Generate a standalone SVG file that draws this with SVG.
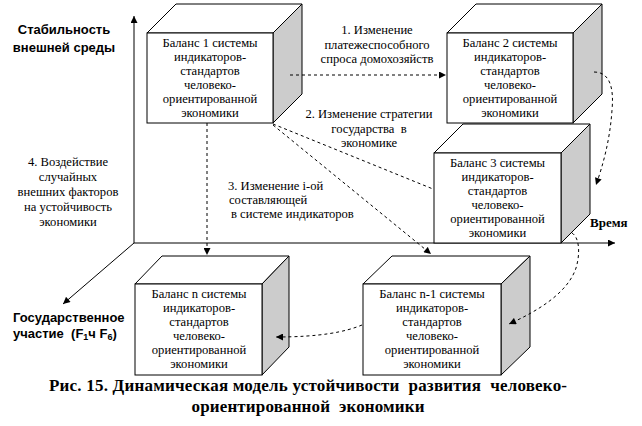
<svg xmlns="http://www.w3.org/2000/svg" width="642" height="426" viewBox="0 0 642 426">
<style>
  .bg{fill:#fff}
  .front{fill:#fff;stroke:#000;stroke-width:1}
  .top{fill:#fff;stroke:#000;stroke-width:1}
  .side{fill:#cccccc;stroke:#000;stroke-width:1}
  .bt{font-family:"Liberation Serif","Times New Roman",serif;font-size:12.6px;fill:#000;text-anchor:middle}
  .lbl{font-family:"Liberation Serif","Times New Roman",serif;font-size:12.6px;fill:#000;white-space:pre}
  .mid{text-anchor:middle}
  .hb{font-family:"Liberation Sans",Arial,sans-serif;font-size:13px;font-weight:bold;fill:#000;white-space:pre}
  .sb{font-family:"Liberation Serif","Times New Roman",serif;font-size:13px;font-weight:bold;fill:#000}
  .cap{font-family:"Liberation Serif","Times New Roman",serif;font-size:17px;font-weight:bold;fill:#000;text-anchor:middle;white-space:pre}
  .axis{fill:none;stroke:#000;stroke-width:1}
  .dash{fill:none;stroke:#000;stroke-width:1;stroke-dasharray:3 3}
</style>
<defs>
  <marker id="ah" viewBox="0 0 10 10" refX="10" refY="5" markerWidth="8" markerHeight="7" markerUnits="userSpaceOnUse" orient="auto">
    <path d="M0,0 L10,5 L0,10 z" fill="#000"/>
  </marker>
</defs>
<rect class="bg" x="0" y="0" width="642" height="426"/>

<g id="axes">
  <path class="axis" d="M134,243 L134,16" marker-end="url(#ah)"/>
  <path class="axis" d="M134,243 L615,243" marker-end="url(#ah)"/>
  <path class="axis" d="M134,243 L63,304" marker-end="url(#ah)"/>
</g>

<g id="box1">
  <polygon class="top" points="147,33 273,33 302,4 176,4"/>
  <polygon class="side" points="273,33 302,4 302,94 273,123"/>
  <rect class="front" x="147" y="33" width="126" height="90"/>
  <text class="bt" x="210" y="46.5">Баланс 1 системы</text>
  <text class="bt" x="210" y="60.5">индикаторов-</text>
  <text class="bt" x="210" y="74.5">стандартов</text>
  <text class="bt" x="210" y="88.5">человеко-</text>
  <text class="bt" x="210" y="102.5">ориентированной</text>
  <text class="bt" x="210" y="116.5">экономики</text>
</g>

<g id="box2">
  <polygon class="top" points="447,33 573,33 602,4 476,4"/>
  <polygon class="side" points="573,33 602,4 602,94 573,123"/>
  <rect class="front" x="447" y="33" width="126" height="90"/>
  <text class="bt" x="510" y="46.5">Баланс 2 системы</text>
  <text class="bt" x="510" y="60.5">индикаторов-</text>
  <text class="bt" x="510" y="74.5">стандартов</text>
  <text class="bt" x="510" y="88.5">человеко-</text>
  <text class="bt" x="510" y="102.5">ориентированной</text>
  <text class="bt" x="510" y="116.5">экономики</text>
</g>

<g id="box3">
  <polygon class="top" points="434,153 561,153 590,124 463,124"/>
  <polygon class="side" points="561,153 590,124 590,214 561,243"/>
  <rect class="front" x="434" y="153" width="127" height="90"/>
  <text class="bt" x="497.5" y="166.5">Баланс 3 системы</text>
  <text class="bt" x="497.5" y="180.5">индикаторов-</text>
  <text class="bt" x="497.5" y="194.5">стандартов</text>
  <text class="bt" x="497.5" y="208.5">человеко-</text>
  <text class="bt" x="497.5" y="222.5">ориентированной</text>
  <text class="bt" x="497.5" y="236.5">экономики</text>
</g>

<g id="boxn">
  <polygon class="top" points="135,284 262,284 289,256 162,256"/>
  <polygon class="side" points="262,284 289,256 289,347 262,375"/>
  <rect class="front" x="135" y="284" width="127" height="91"/>
  <text class="bt" x="199" y="298">Баланс n системы</text>
  <text class="bt" x="199" y="312">индикаторов-</text>
  <text class="bt" x="199" y="326">стандартов</text>
  <text class="bt" x="199" y="340">человеко-</text>
  <text class="bt" x="199" y="354">ориентированной</text>
  <text class="bt" x="199" y="368">экономики</text>
</g>

<g id="boxn1">
  <polygon class="top" points="363,284 501,284 530,256 392,256"/>
  <polygon class="side" points="501,284 530,256 530,347 501,375"/>
  <rect class="front" x="363" y="284" width="138" height="91"/>
  <text class="bt" x="432" y="298">Баланс n-1 системы</text>
  <text class="bt" x="432" y="312">индикаторов-</text>
  <text class="bt" x="432" y="326">стандартов</text>
  <text class="bt" x="432" y="340">человеко-</text>
  <text class="bt" x="432" y="354">ориентированной</text>
  <text class="bt" x="432" y="368">экономики</text>
</g>

<g id="connectors">
  <path class="dash" d="M290,75 L446,75" marker-end="url(#ah)"/>
  <path class="dash" d="M207,123 L207,255" marker-end="url(#ah)"/>
  <path class="dash" d="M273,124 L433,189"/>
  <path class="dash" d="M273,125 L431,254" marker-end="url(#ah)"/>
  <path class="dash" d="M594,72 C610,72 614,88 612,110 C610,140 603,165 596,185" marker-end="url(#ah)"/>
  <path class="dash" d="M572,233 C580,238 580,255 576,268 C568,292 540,310 509,324" marker-end="url(#ah)"/>
  <path class="dash" d="M362,325 C345,332 320,337 276,337" marker-end="url(#ah)"/>
</g>

<g id="labels">
  <text class="hb" x="64" y="34" text-anchor="middle">Стабильность</text>
  <text class="hb" x="64" y="52" text-anchor="middle">внешней среды</text>

  <text class="lbl mid" x="377" y="34">1. Изменение</text>
  <text class="lbl mid" x="377" y="48.5">платежеспособного</text>
  <text class="lbl mid" x="377" y="63">спроса домохозяйств</text>

  <text class="lbl mid" x="369" y="118">2. Изменение стратегии</text>
  <text class="lbl mid" x="369" y="132.5">государства  в</text>
  <text class="lbl mid" x="369" y="147">экономике</text>

  <text class="lbl" x="228" y="190">3. Изменение i-ой</text>
  <text class="lbl" x="229" y="204">составляющей</text>
  <text class="lbl" x="231" y="218">в системе индикаторов</text>

  <text class="lbl mid" x="68" y="166">4. Воздействие</text>
  <text class="lbl mid" x="68" y="181">случайных</text>
  <text class="lbl mid" x="68" y="196">внешних факторов</text>
  <text class="lbl mid" x="68" y="211">на устойчивость</text>
  <text class="lbl mid" x="68" y="226">экономики</text>

  <text class="sb" x="590" y="227">Время</text>

  <text class="hb" x="13" y="322">Государственное</text>
  <text class="hb" x="13" y="338">участие  (F<tspan font-size="9" dy="2">1</tspan><tspan dy="-2">ч F</tspan><tspan font-size="9" dy="2">6</tspan><tspan dy="-2">)</tspan></text>

  <text class="cap" x="308" y="391" textLength="518" lengthAdjust="spacing">Рис. 15. Динамическая модель устойчивости  развития  человеко-</text>
  <text class="cap" x="308" y="412" textLength="233" lengthAdjust="spacing">ориентированной  экономики</text>
</g>
</svg>
